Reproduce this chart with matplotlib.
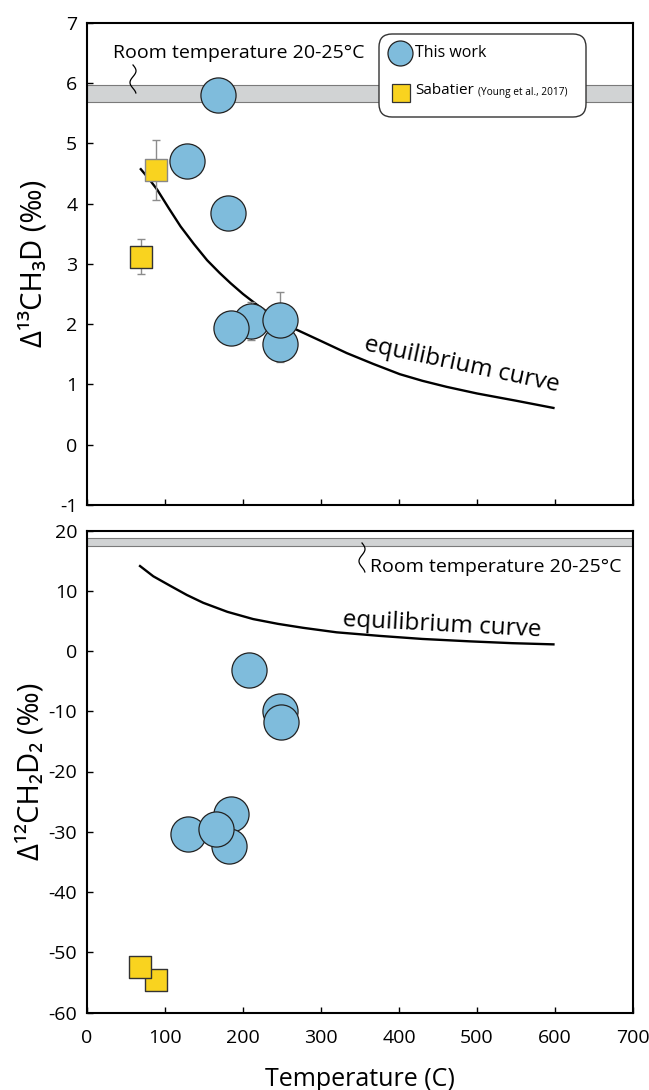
import numpy as np
import matplotlib.pyplot as plt
from matplotlib.patches import FancyBboxPatch
from matplotlib.lines import Line2D

plt.rcParams['font.family'] = ['Open Sans', 'DejaVu Sans']
plt.rcParams['axes.unicode_minus'] = False

# Top panel: Delta 13CH3D vs temperature
work_T_13 = [168, 128, 181, 247, 210, 184, 248]
work_d13 = [5.80, 4.71, 3.85, 1.67, 2.05, 1.94, 2.07]
work_err_13 = [0, 0, 0, 0.30, 0.31, 0, 0.46]
sab_T_13 = [88, 69]
sab_d13 = [4.56, 3.12]
sab_err_13 = [0.50, 0.29]
eq_T_13 = [69, 80, 90, 105, 120, 137, 154, 170, 184, 200, 218, 240, 265,
           300, 333, 367, 401, 430, 461, 500, 550, 598]
eq_d13 = [4.57, 4.40, 4.23, 3.92, 3.62, 3.33, 3.06, 2.85, 2.68, 2.50, 2.32,
          2.12, 1.93, 1.72, 1.52, 1.34, 1.17, 1.06, 0.96, 0.85, 0.73, 0.61]
room_13 = (5.68, 5.97)

# Bottom panel: Delta 12CH2D2 vs temperature
work_T_12 = [208, 248, 249, 184, 182, 129, 166]
work_d12 = [-3.2, -10.0, -11.8, -27.1, -32.4, -30.3, -29.6]
sab_T_12 = [88, 68]
sab_d12 = [-54.6, -52.5]
eq_T_12 = [68, 85, 107, 128, 149, 180, 213, 245, 277, 320, 376, 430, 491, 545, 598]
eq_d12 = [14.1, 12.4, 10.8, 9.3, 8.0, 6.5, 5.3, 4.5, 3.85, 3.1, 2.5, 2.0, 1.6, 1.3, 1.1]
room_12 = (17.5, 18.7)

x_ticks = [0, 100, 200, 300, 400, 500, 600, 700]

blue = '#7fbcdc'
yellow = '#f9d31f'
band_fc = '#d1d3d4'
band_ec = '#7a7a7a'

W, H = 649, 1090
fig = plt.figure(figsize=(W / 100, H / 100), dpi=100)


def px(x, y):
    return (x / W, 1 - y / H)


ax1 = fig.add_axes([87 / W, 1 - 505 / H, 546 / W, 482.3 / H])
ax2 = fig.add_axes([87 / W, 1 - 1012.5 / H, 546 / W, 482 / H])

for ax in (ax1, ax2):
    ax.set_xlim(0, 700)
    ax.set_xticks(x_ticks)
    ax.tick_params(direction='in', length=4, width=1, labelsize=14, pad=7,
                   top=False, right=False)
    ax.tick_params(axis='x', pad=12)
    for s in ax.spines.values():
        s.set_linewidth(1.5)

# ---- top panel
ax1.set_ylim(-1, 7)
ax1.set_yticks(range(-1, 8))
ax1.tick_params(axis='x', labelbottom=False)
ax1.axhspan(room_13[0], room_13[1], facecolor=band_fc, edgecolor=band_ec, lw=0.8, zorder=0)
ax1.plot(eq_T_13, eq_d13, color='black', lw=1.7, zorder=1)
ax1.errorbar(sab_T_13, sab_d13, yerr=sab_err_13, fmt='none', ecolor='#8c8c8c',
             elinewidth=1, capsize=3, zorder=2)
ax1.errorbar(work_T_13, work_d13, yerr=work_err_13, fmt='none', ecolor='#8c8c8c',
             elinewidth=1, capsize=3, zorder=2)
ax1.scatter(sab_T_13, sab_d13, s=250, marker='s', facecolor=yellow,
            edgecolor=['#888888', '#333333'], linewidth=1, zorder=3)
ax1.scatter(work_T_13, work_d13, s=640, marker='o', facecolor=blue,
            edgecolor='#222222', linewidth=0.9, zorder=4)
ax1.set_ylabel('Δ¹³CH₃D (‰)', fontsize=21, labelpad=8)
ax1.text(481, 1.32, 'equilibrium curve', fontsize=17.5, rotation=-12,
         ha='center', va='center')

# ---- bottom panel
ax2.set_ylim(-60, 20)
ax2.set_yticks(range(-60, 21, 10))
ax2.axhspan(room_12[0], room_12[1], facecolor=band_fc, edgecolor=band_ec, lw=0.8, zorder=0)
ax2.plot(eq_T_12, eq_d12, color='black', lw=1.7, zorder=1)
ax2.scatter(sab_T_12, sab_d12, s=250, marker='s', facecolor=yellow,
            edgecolor='#333333', linewidth=1, zorder=3)
ax2.scatter(work_T_12, work_d12, s=640, marker='o', facecolor=blue,
            edgecolor='#222222', linewidth=0.9, zorder=4)
ax2.set_ylabel('Δ¹²CH₂D₂ (‰)', fontsize=21, labelpad=2)
ax2.set_xlabel('Temperature (C)', fontsize=18, labelpad=14)
ax2.text(455, 4.3, 'equilibrium curve', fontsize=17.5, rotation=-3,
         ha='center', va='center')

# ---- room temperature labels with squiggles
fig.text(*px(113, 53), 'Room temperature 20-25°C', fontsize=14, va='center', ha='left')
t = np.linspace(0, 1, 50)
sq_x = 133 + 3 * np.sin(2 * np.pi * t * 1.2)
sq_y = 65 + 28 * t
fig.add_artist(Line2D(sq_x / W, 1 - sq_y / H, color='black', lw=0.9))

fig.text(*px(370, 567), 'Room temperature 20-25°C', fontsize=14, va='center', ha='left')
sq_x = 362 + 3 * np.sin(2 * np.pi * t * 1.2)
sq_y = 543 + 29 * t
fig.add_artist(Line2D(sq_x / W, 1 - sq_y / H, color='black', lw=0.9))

# ---- legend box
box = FancyBboxPatch((3.79, (H - 117) / 100), 2.07, 0.83,
                     boxstyle='round,pad=0,rounding_size=0.13',
                     transform=fig.dpi_scale_trans, facecolor='white',
                     edgecolor='#333333', lw=1, zorder=5)
fig.add_artist(box)
fig.add_artist(Line2D([400 / W], [1 - 53 / H], marker='o', markersize=18,
                      markerfacecolor=blue, markeredgecolor='#222222',
                      markeredgewidth=0.9, linestyle='none', zorder=6))
fig.add_artist(Line2D([401 / W], [1 - 92.5 / H], marker='s', markersize=13,
                      markerfacecolor=yellow, markeredgecolor='#333333',
                      markeredgewidth=0.9, linestyle='none', zorder=6))
fig.text(*px(415, 53), 'This work', fontsize=11.5, va='center', ha='left', zorder=7)
fig.text(*px(415, 91), 'Sabatier', fontsize=11, va='center', ha='left', zorder=7)
fig.text(*px(478, 93), '(Young et al., 2017)', fontsize=7.3, va='center', ha='left', zorder=7)

fig.savefig('out.png', dpi=100)
